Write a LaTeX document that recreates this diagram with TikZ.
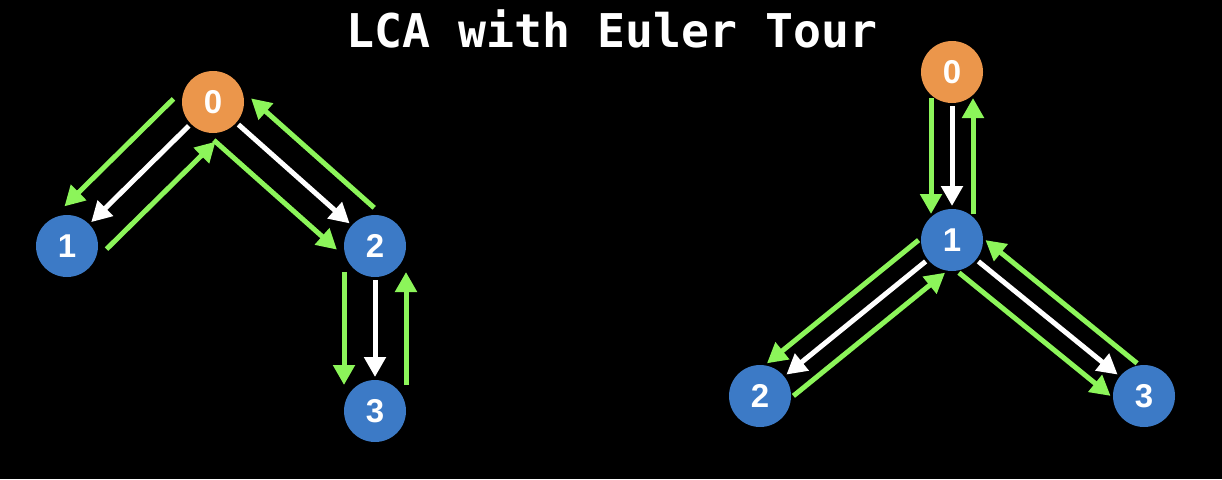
\documentclass[tikz,border=0pt]{standalone}
\usepackage{fontspec}
\setsansfont{Liberation Sans}
\newfontfamily\titlefont{DejaVu Sans Mono}
\usetikzlibrary{calc,arrows.meta}

\definecolor{rootorange}{RGB}{235,150,75}
\definecolor{nodeblue}{RGB}{60,122,198}
\definecolor{tourgreen}{RGB}{140,245,90}

\tikzset{
  vertex/.style={circle,minimum size=62pt,inner sep=0pt,text=white,
    font=\sffamily\bfseries\fontsize{33}{33}\selectfont},
  root/.style={vertex,fill=rootorange},
  leaf/.style={vertex,fill=nodeblue},
  walk/.style={white,line width=5pt,-{Triangle[length=20pt,width=21pt]}},
  tour/.style={walk,tourgreen}
}

\begin{document}
\begin{tikzpicture}[x=1pt,y=-1pt]
  \fill[black] (0,0) rectangle (1222,479);
  \useasboundingbox (0,0) rectangle (1222,479);

  \node[white,anchor=base,font=\titlefont\bfseries\fontsize{46.5}{46.5}\selectfont]
    (title) at (612,47) {LCA with Euler Tour};

  % tree rooted at 0
  \node[root] (a0) at (213,102) {0};
  \node[leaf] (a1) at (67,246) {1};
  \node[leaf] (a2) at (375,246) {2};
  \node[leaf] (a3) at (375,411) {3};

  % tree rooted at 0, through 1
  \node[root] (b0) at (952,72) {0};
  \node[leaf] (b1) at (952,240) {1};
  \node[leaf] (b2) at (760,396) {2};
  \node[leaf] (b3) at (1144,396) {3};

  \foreach \p/\c/\d in {a0/a1/30pt, a0/a2/28pt, a2/a3/31pt,
                        b0/b1/21pt, b1/b2/21pt, b1/b3/21pt} {
    \draw[walk] ($(\p.center)!34pt!(\c.center)$) -- ($(\c.center)!34pt!(\p.center)$);
    \draw[tour] ($(\p.center)!26pt!(\c.center)!\d!-90:(\c.center)$)
             -- ($(\c.center)!26pt!(\p.center)!\d!90:(\p.center)$);
    \draw[tour] ($(\c.center)!26pt!(\p.center)!\d!-90:(\p.center)$)
             -- ($(\p.center)!26pt!(\c.center)!\d!90:(\c.center)$);
  }
\end{tikzpicture}
\end{document}
